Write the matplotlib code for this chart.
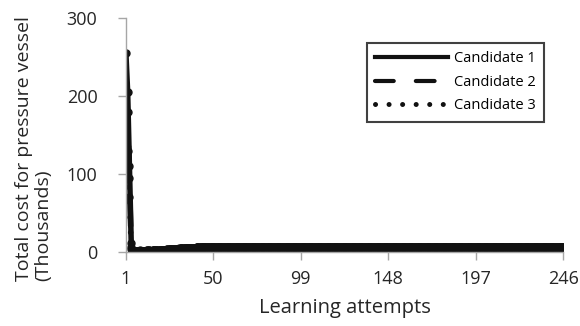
"""Total cost for pressure vessel over learning attempts, three candidates."""

import matplotlib.pyplot as plt
import numpy as np

# values in thousands, one per learning attempt (1..246)
candidate_1 = [
    255, 205, 110, 12, 1.8, 1.2, 0.9, 1.4, 2.0, 1.3, 0.9, 1.5, 2.1, 2.4, 1.8, 1.4, 2.2, 2.7, 2.5, 2.1,
    2.6, 3.0, 2.8, 3.3, 3.1, 3.6, 3.9, 3.6, 4.1, 4.4, 4.1, 4.6, 4.9, 4.6, 5.1, 5.3, 5.1, 5.5, 5.7, 5.5,
    5.8, 6.0, 5.9, 6.2, 6.3, 6.2, 6.4, 6.5, 6.3, 6.5, 6.4, 6.6, 6.5, 6.4, 6.6, 6.5, 6.7, 6.5, 6.6, 6.4,
    6.5, 6.6, 6.5, 6.4, 6.6, 6.7, 6.5, 6.6, 6.5, 6.4, 6.5, 6.6, 6.6, 6.5, 6.7, 6.6, 6.5, 6.4, 6.6, 6.5,
    6.6, 6.5, 6.7, 6.6, 6.5, 6.6, 6.4, 6.5, 6.6, 6.5, 6.6, 6.7, 6.5, 6.6, 6.5, 6.4, 6.6, 6.5, 6.6, 6.7,
    6.5, 6.6, 6.5, 6.6, 6.4, 6.5, 6.7, 6.6, 6.5, 6.6, 6.5, 6.6, 6.7, 6.5, 6.4, 6.6, 6.5, 6.6, 6.5, 6.6,
    6.7, 6.5, 6.6, 6.5, 6.4, 6.6, 6.5, 6.7, 6.6, 6.5, 6.6, 6.5, 6.6, 6.4, 6.5, 6.7, 6.6, 6.5, 6.6, 6.5,
    6.6, 6.7, 6.5, 6.6, 6.5, 6.4, 6.6, 6.5, 6.6, 6.7, 6.5, 6.6, 6.5, 6.6, 6.4, 6.5, 6.7, 6.6, 6.5, 6.6,
    6.5, 6.6, 6.7, 6.5, 6.4, 6.6, 6.5, 6.6, 6.5, 6.6, 6.7, 6.5, 6.6, 6.5, 6.4, 6.6, 6.5, 6.7, 6.6, 6.5,
    6.6, 6.5, 6.6, 6.4, 6.5, 6.7, 6.6, 6.5, 6.6, 6.5, 6.6, 6.7, 6.5, 6.6, 6.5, 6.4, 6.6, 6.5, 6.6, 6.7,
    6.5, 6.6, 6.5, 6.6, 6.4, 6.5, 6.7, 6.6, 6.5, 6.6, 6.5, 6.6, 6.7, 6.5, 6.4, 6.6, 6.5, 6.6, 6.5, 6.6,
    6.7, 6.5, 6.6, 6.5, 6.4, 6.6, 6.5, 6.7, 6.6, 6.5, 6.6, 6.5, 6.6, 6.4, 6.5, 6.7, 6.6, 6.5, 6.6, 6.5,
    6.6, 6.7, 6.5, 6.6, 6.5, 6.6,
]
candidate_2 = [
    205, 180, 95, 6, 1.5, 1.0, 1.3, 1.8, 1.2, 0.8, 1.4, 1.9, 2.3, 1.6, 1.3, 2.0, 2.5, 2.3, 1.9, 2.4,
    2.9, 2.7, 3.2, 3.0, 3.5, 3.8, 3.4, 4.0, 4.3, 4.0, 4.5, 4.8, 4.5, 5.0, 5.2, 5.0, 5.4, 5.6, 5.4, 5.7,
    5.9, 5.8, 6.1, 6.2, 6.1, 6.3, 6.4, 6.2, 6.4, 6.5, 6.3, 6.5, 6.4, 6.6, 6.5, 6.4, 6.6, 6.5, 6.4, 6.6,
    6.4, 6.5, 6.6, 6.5, 6.4, 6.5, 6.6, 6.5, 6.4, 6.6, 6.5, 6.5, 6.4, 6.6, 6.5, 6.5, 6.6, 6.4, 6.5, 6.6,
    6.5, 6.4, 6.6, 6.5, 6.5, 6.4, 6.6, 6.5, 6.4, 6.5, 6.6, 6.5, 6.4, 6.6, 6.5, 6.5, 6.4, 6.6, 6.5, 6.5,
    6.6, 6.4, 6.5, 6.6, 6.5, 6.4, 6.6, 6.5, 6.5, 6.4, 6.6, 6.5, 6.5, 6.6, 6.4, 6.5, 6.6, 6.5, 6.4, 6.6,
    6.5, 6.4, 6.6, 6.5, 6.5, 6.4, 6.6, 6.5, 6.4, 6.5, 6.6, 6.5, 6.4, 6.6, 6.5, 6.5, 6.4, 6.6, 6.5, 6.5,
    6.6, 6.4, 6.5, 6.6, 6.5, 6.4, 6.6, 6.5, 6.5, 6.4, 6.6, 6.5, 6.5, 6.6, 6.4, 6.5, 6.6, 6.5, 6.4, 6.6,
    6.5, 6.4, 6.6, 6.5, 6.5, 6.4, 6.6, 6.5, 6.4, 6.5, 6.6, 6.5, 6.4, 6.6, 6.5, 6.5, 6.4, 6.6, 6.5, 6.5,
    6.6, 6.4, 6.5, 6.6, 6.5, 6.4, 6.6, 6.5, 6.5, 6.4, 6.6, 6.5, 6.5, 6.6, 6.4, 6.5, 6.6, 6.5, 6.4, 6.6,
    6.5, 6.4, 6.6, 6.5, 6.5, 6.4, 6.6, 6.5, 6.4, 6.5, 6.6, 6.5, 6.4, 6.6, 6.5, 6.5, 6.4, 6.6, 6.5, 6.5,
    6.6, 6.4, 6.5, 6.6, 6.5, 6.4, 6.6, 6.5, 6.5, 6.4, 6.6, 6.5, 6.5, 6.6, 6.4, 6.5, 6.6, 6.5, 6.4, 6.6,
    6.5, 6.4, 6.6, 6.5, 6.5, 6.4,
]
candidate_3 = [
    160, 130, 70, 4, 1.2, 1.6, 1.1, 0.9, 1.5, 1.7, 1.2, 1.0, 1.6, 2.0, 1.7, 2.2, 1.9, 2.4, 2.6, 2.2,
    2.7, 2.5, 3.0, 3.3, 3.1, 3.5, 3.3, 3.8, 4.0, 3.8, 4.3, 4.6, 4.4, 4.8, 5.0, 4.9, 5.3, 5.5, 5.3, 5.6,
    5.8, 5.7, 6.0, 6.1, 6.0, 6.2, 6.3, 6.2, 6.4, 6.3, 6.5, 6.4, 6.5, 6.3, 6.5, 6.6, 6.4, 6.5, 6.6, 6.5,
    6.6, 6.4, 6.5, 6.6, 6.6, 6.5, 6.4, 6.6, 6.6, 6.5, 6.4, 6.5, 6.6, 6.6, 6.5, 6.4, 6.6, 6.5, 6.6, 6.5,
    6.4, 6.6, 6.5, 6.6, 6.6, 6.5, 6.5, 6.4, 6.6, 6.6, 6.5, 6.4, 6.5, 6.6, 6.6, 6.5, 6.4, 6.6, 6.5, 6.6,
    6.5, 6.4, 6.6, 6.5, 6.6, 6.6, 6.5, 6.5, 6.4, 6.6, 6.6, 6.5, 6.4, 6.5, 6.6, 6.6, 6.5, 6.4, 6.6, 6.5,
    6.6, 6.4, 6.5, 6.6, 6.6, 6.5, 6.4, 6.6, 6.6, 6.5, 6.4, 6.5, 6.6, 6.6, 6.5, 6.4, 6.6, 6.5, 6.6, 6.5,
    6.4, 6.6, 6.5, 6.6, 6.6, 6.5, 6.5, 6.4, 6.6, 6.6, 6.5, 6.4, 6.5, 6.6, 6.6, 6.5, 6.4, 6.6, 6.5, 6.6,
    6.5, 6.4, 6.6, 6.5, 6.6, 6.6, 6.5, 6.5, 6.4, 6.6, 6.6, 6.5, 6.4, 6.5, 6.6, 6.6, 6.5, 6.4, 6.6, 6.5,
    6.6, 6.4, 6.5, 6.6, 6.6, 6.5, 6.4, 6.6, 6.6, 6.5, 6.4, 6.5, 6.6, 6.6, 6.5, 6.4, 6.6, 6.5, 6.6, 6.5,
    6.4, 6.6, 6.5, 6.6, 6.6, 6.5, 6.5, 6.4, 6.6, 6.6, 6.5, 6.4, 6.5, 6.6, 6.6, 6.5, 6.4, 6.6, 6.5, 6.6,
    6.5, 6.4, 6.6, 6.5, 6.6, 6.6, 6.5, 6.5, 6.4, 6.6, 6.6, 6.5, 6.4, 6.5, 6.6, 6.6, 6.5, 6.4, 6.6, 6.5,
    6.6, 6.4, 6.5, 6.6, 6.6, 6.5,
]
series_names = ["Candidate 1", "Candidate 2", "Candidate 3"]
x_ticks = [1, 50, 99, 148, 197, 246]
y_ticks = [0, 100, 200, 300]


def main():
    plt.rcParams["font.family"] = ["Open Sans", "DejaVu Sans"]
    attempts = np.arange(1, len(candidate_1) + 1)

    fig = plt.figure(figsize=(5.8, 3.26), dpi=100)
    ax = fig.add_axes([0.217, 0.227, 0.754, 0.718])

    black = "#111111"
    text_col = "#262626"
    styles = [
        dict(linestyle="-", lw=3),
        dict(linestyle=(0, (4.5, 5.3)), dash_capstyle="round", lw=3),
        dict(linestyle=(0, (0.01, 2.7)), dash_capstyle="round", lw=3.6),
    ]
    for vals, name, st in zip([candidate_1, candidate_2, candidate_3], series_names, styles):
        line_st = {k: v for k, v in st.items() if k != "lw"}
        ax.plot(attempts, vals, color=black, lw=4, marker="o", ms=5,
                label=name, solid_capstyle="round", **line_st)

    ax.set_xlim(1, 246)
    ax.set_ylim(0, 300)
    ax.set_xticks(x_ticks)
    ax.set_yticks(y_ticks)
    ax.tick_params(direction="out", length=5.5, width=1, color="#A6A6A6",
                   labelsize=13, labelcolor=text_col)
    ax.tick_params(axis="y", pad=15)
    ax.tick_params(axis="x", pad=7.5)

    for side in ("top", "right"):
        ax.spines[side].set_visible(False)
    for side in ("left", "bottom"):
        ax.spines[side].set_color("#A6A6A6")
        ax.spines[side].set_linewidth(1)

    ax.set_xlabel("Learning attempts", fontsize=14.5, color=text_col, labelpad=7)
    ax.set_ylabel("Total cost for pressure vessel\n(Thousands)", fontsize=14,
                  color=text_col, multialignment="left", linespacing=1.1)
    ax.yaxis.set_label_coords(-0.168, 0.44)

    # legend handles drawn without markers, like the reference
    handles = [plt.Line2D([], [], color=black, **st) for st in styles]
    leg = ax.legend(handles, series_names, loc="upper right",
                    bbox_to_anchor=(0.956, 0.893), fontsize=10.5, handlelength=5,
                    handletextpad=0.45, borderpad=0.55, labelspacing=0.6,
                    borderaxespad=0, fancybox=False, frameon=True)
    leg.get_frame().set_edgecolor(black)
    leg.get_frame().set_linewidth(1.5)

    fig.savefig("out.png", dpi=100)


if __name__ == "__main__":
    main()
